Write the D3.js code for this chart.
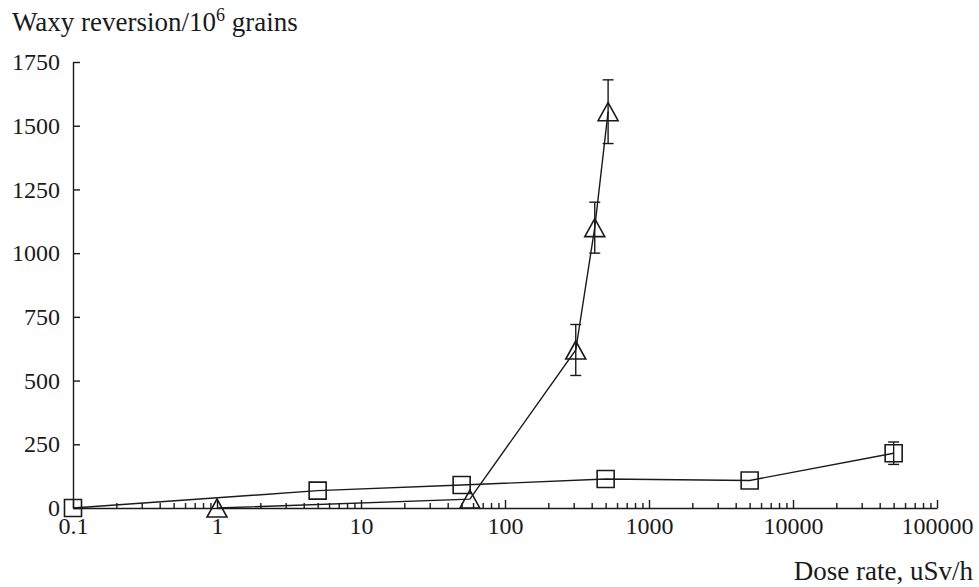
<!DOCTYPE html>
<html>
<head>
<meta charset="utf-8">
<script src="https://cdn.jsdelivr.net/npm/d3@7"></script>
<style>
  body { margin: 0; background: #fff; }
  text { font-family: "Liberation Serif", "DejaVu Serif", serif; fill: #1a1a1a; }
</style>
</head>
<body>
<div id="chart"></div>
<script>
// data
var squareDose = [0.1, 5, 50, 500, 5000, 50000];
var squareRev = [0, 68, 90, 114, 108, 215];
var squareErr = [0, 0, 0, 0, 0, 44];

var triDose = [1, 57, 310, 420, 520];
var triRev = [0, 35, 620, 1100, 1555];
var triErr = [0, 0, 100, 100, 125];

var xTicks = [0.1, 1, 10, 100, 1000, 10000, 100000];
var xTickLabels = ["0.1", "1", "10", "100", "1000", "10000", "100000"];
var yTicks = [0, 250, 500, 750, 1000, 1250, 1500, 1750];

var width = 979, height = 587;

var svg = d3.select("#chart").append("svg")
    .attr("width", width)
    .attr("height", height);

var x = d3.scaleLog().domain([0.1, 100000]).range([73, 937]);
var y = d3.scaleLinear().domain([0, 1750]).range([508, 62]);

//minor ticks on the log axis
var minor = [];
xTicks.slice(0, -1).forEach(function(d) {
    for (var k = 2; k <= 9; k++) minor.push(d * k);
});

var tickFont = 24, labelFont = 27;

// x axis
svg.append("g")
    .attr("transform", "translate(0," + y(0) + ")")
    .call(d3.axisBottom(x)
        .tickValues(xTicks)
        .tickFormat(function(d, i) { return xTickLabels[i]; })
        .tickSizeInner(-8)
        .tickSizeOuter(0)
        .tickPadding(9));
svg.append("g")
    .attr("transform", "translate(0," + y(0) + ")")
    .call(d3.axisBottom(x)
        .tickValues(minor)
        .tickFormat("")
        .tickSizeInner(-5)
        .tickSizeOuter(0))
    .select(".domain").remove();

// y axis
svg.append("g")
    .attr("transform", "translate(" + x(0.1) + ",0)")
    .call(d3.axisLeft(y)
        .tickValues(yTicks)
        .tickFormat(d3.format("d"))
        .tickSizeInner(-7)
        .tickSizeOuter(0)
        .tickPadding(13));

svg.selectAll(".tick text")
    .style("font-family", "Liberation Serif")
    .style("font-size", tickFont + "px")
    .attr("fill", "#1a1a1a");
svg.selectAll(".domain, .tick line")
    .attr("stroke", "#1a1a1a")
    .attr("stroke-width", 1.4);

// axis titles
var title = svg.append("text")
    .attr("x", 12)
    .attr("y", 31)
    .style("font-size", labelFont + "px");
title.append("tspan").text("Waxy reversion/10");
title.append("tspan").attr("dy", -10).style("font-size", "18px").text("6");
title.append("tspan").attr("dy", 10).text(" grains");

svg.append("text")
    .attr("x", 973)
    .attr("y", 580)
    .attr("text-anchor", "end")
    .style("font-size", labelFont + "px")
    .text("Dose rate, uSv/h");

function series(dose, rev, err, shape) {
    var pts = dose.map(function(d, i) {
        return {dose: d, rev: rev[i], err: err[i]};
    });
    var line = d3.line()
        .x(function(d) { return x(d.dose); })
        .y(function(d) { return y(d.rev); });

    svg.append("path")
        .datum(pts)
        .attr("d", line)
        .attr("fill", "none")
        .attr("stroke", "#1a1a1a")
        .attr("stroke-width", 1.4);

    var bars = svg.append("g").selectAll("g")
        .data(pts.filter(function(d) { return d.err > 0; }))
        .enter().append("g")
        .attr("stroke", "#1a1a1a")
        .attr("stroke-width", 1.4);
    bars.append("line")
        .attr("x1", function(d) { return x(d.dose); })
        .attr("x2", function(d) { return x(d.dose); })
        .attr("y1", function(d) { return y(d.rev + d.err); })
        .attr("y2", function(d) { return y(d.rev - d.err); });
    [1, -1].forEach(function(s) {
        bars.append("line")
            .attr("x1", function(d) { return x(d.dose) - 5.5; })
            .attr("x2", function(d) { return x(d.dose) + 5.5; })
            .attr("y1", function(d) { return y(d.rev + s * d.err); })
            .attr("y2", function(d) { return y(d.rev + s * d.err); });
    });

    svg.append("g").selectAll("path")
        .data(pts)
        .enter().append("path")
        .attr("transform", function(d) {
            return "translate(" + x(d.dose) + "," + y(d.rev) + ")";
        })
        .attr("d", shape == "square"
            ? "M-8.5,-8.5H8.5V8.5H-8.5Z"
            : "M0,-9L10,9H-10Z")
        .attr("fill", "none")
        .attr("stroke", "#1a1a1a")
        .attr("stroke-width", 1.6);
}

series(squareDose, squareRev, squareErr, "square");
series(triDose, triRev, triErr, "triangle");
</script>
</body>
</html>
